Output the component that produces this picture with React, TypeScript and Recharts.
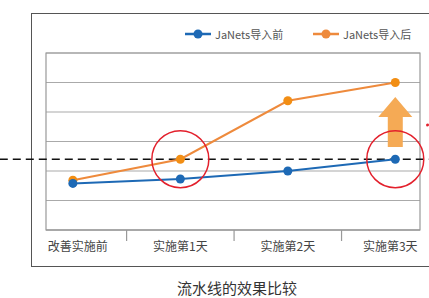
import {
  CartesianGrid,
  Line,
  LineChart,
  ReferenceArea,
  ReferenceDot,
  ReferenceLine,
  XAxis,
  YAxis,
} from 'recharts';

const categories = ['改善实施前', '实施第1天', '实施第2天', '实施第3天'];
const before = [1.58, 1.73, 2.0, 2.4];
const after = [1.69, 2.4, 4.38, 5.0];
const seriesNames = ['JaNets导入前', 'JaNets导入后'];
const yTicks = [0, 1, 2, 3, 4, 5, 6];
const xTicks = [0, 0.5, 1, 1.5, 2, 2.5, 3];
const targetLevel = 2.4;

const BLUE = '#1d69b5';
const ORANGE_LINE = '#ee8a3c';
const ORANGE_DOT = '#f28e14';
const FONT = '"Noto Sans CJK SC", "Noto Sans", sans-serif';

const data = categories.map((name, i) => ({
  x: i,
  name,
  before: before[i],
  after: after[i],
}));

interface TickProps {
  x?: number;
  y?: number;
  payload?: { value: number };
}

function AxisTick({ x = 0, y = 0, payload }: TickProps) {
  const v = payload?.value ?? 0;
  if (!Number.isInteger(v)) {
    return <line x1={x} y1={y} x2={x} y2={y + 11} stroke="#999" strokeWidth={1.2} />;
  }
  const dx = v === 0 ? 5 : v === categories.length - 1 ? -5 : 0;
  return (
    <text
      x={x + dx}
      y={y + 21}
      textAnchor="middle"
      fontSize={12}
      fill="#444"
      fontFamily={FONT}
    >
      {categories[v]}
    </text>
  );
}

interface ArrowProps {
  cx?: number;
  cy?: number;
}

function UpArrow({ cx = 0, cy = 0 }: ArrowProps) {
  const pts = [
    [cx, cy - 25],
    [cx + 17, cy - 5],
    [cx + 7.5, cy - 5],
    [cx + 7.5, cy + 25],
    [cx - 7.5, cy + 25],
    [cx - 7.5, cy - 5],
    [cx - 17, cy - 5],
  ]
    .map((p) => p.join(','))
    .join(' ');
  return <polygon points={pts} fill="#f5aa55" />;
}

function LegendItem({ color, dot, label, left }: { color: string; dot: string; label: string; left: number }) {
  return (
    <div style={{ position: 'absolute', left, top: 26, display: 'flex', alignItems: 'center' }}>
      <svg width={28} height={14}>
        <line x1={0} y1={7} x2={26} y2={7} stroke={color} strokeWidth={2.5} />
        <circle cx={13} cy={7} r={4.5} fill={dot} />
      </svg>
      <span style={{ fontSize: 11, color: '#555', marginLeft: 2 }}>{label}</span>
    </div>
  );
}

export default function App() {
  return (
    <div
      style={{
        position: 'absolute',
        left: 0,
        top: 0,
        width: 429,
        height: 298,
        overflow: 'hidden',
        background: '#fff',
        fontFamily: FONT,
      }}
    >
      <div
        style={{
          position: 'absolute',
          left: 31,
          top: 13,
          width: 440,
          height: 252,
          border: '1.5px solid #555',
        }}
      />
      <LegendItem color={BLUE} dot={BLUE} label={seriesNames[0]} left={185} />
      <LegendItem color={ORANGE_LINE} dot={ORANGE_LINE} label={seriesNames[1]} left={313} />
      <div style={{ position: 'absolute', left: 0, top: 0 }}>
        <LineChart
          width={429}
          height={298}
          data={data}
          margin={{ top: 53, right: 9, left: 46, bottom: 38 }}
          style={{ overflow: 'visible' }}
        >
          <CartesianGrid vertical={false} stroke="#aaa" strokeWidth={1.2} />
          <XAxis
            dataKey="x"
            type="number"
            domain={[-0.25, 3.23]}
            ticks={xTicks}
            interval={0}
            height={30}
            tickLine={false}
            tickSize={0}
            tickMargin={0}
            axisLine={{ stroke: '#999', strokeWidth: 1.2 }}
            tick={<AxisTick />}
          />
          <YAxis hide domain={[0, 6]} ticks={yTicks} />
          <ReferenceArea
            x1={-0.25}
            x2={3.23}
            y1={0}
            y2={6}
            fill="none"
            stroke="#999"
            strokeWidth={1.2}
          />
          <ReferenceLine
            segment={[
              { x: -0.68, y: targetLevel },
              { x: 3.33, y: targetLevel },
            ]}
            ifOverflow="visible"
            stroke="#111"
            strokeWidth={1.5}
            strokeDasharray="8 5"
          />
          <ReferenceDot
            x={3}
            y={3.66}
            ifOverflow="visible"
            shape={<UpArrow />}
          />
          <Line
            dataKey="after"
            stroke={ORANGE_LINE}
            strokeWidth={2}
            dot={{ r: 4.5, fill: ORANGE_DOT, stroke: ORANGE_DOT, strokeWidth: 0 }}
            activeDot={false}
            isAnimationActive={false}
          />
          <Line
            dataKey="before"
            stroke={BLUE}
            strokeWidth={2}
            dot={{ r: 4.5, fill: BLUE, stroke: BLUE, strokeWidth: 0 }}
            activeDot={false}
            isAnimationActive={false}
          />
          <ReferenceDot
            x={1}
            y={targetLevel}
            r={28.5}
            fill="none"
            stroke="#e3202c"
            strokeWidth={1.5}
            ifOverflow="visible"
          />
          <ReferenceDot
            x={3}
            y={targetLevel}
            r={28.5}
            fill="none"
            stroke="#e3202c"
            strokeWidth={1.5}
            ifOverflow="visible"
          />
          <ReferenceDot
            x={3.3}
            y={3.56}
            r={1.5}
            fill="#e3202c"
            stroke="none"
            ifOverflow="visible"
          />
        </LineChart>
      </div>
      <div
        style={{
          position: 'absolute',
          left: 0,
          width: 474,
          top: 277,
          textAlign: 'center',
          fontSize: 15,
          color: '#333',
        }}
      >
        流水线的效果比较
      </div>
    </div>
  );
}
